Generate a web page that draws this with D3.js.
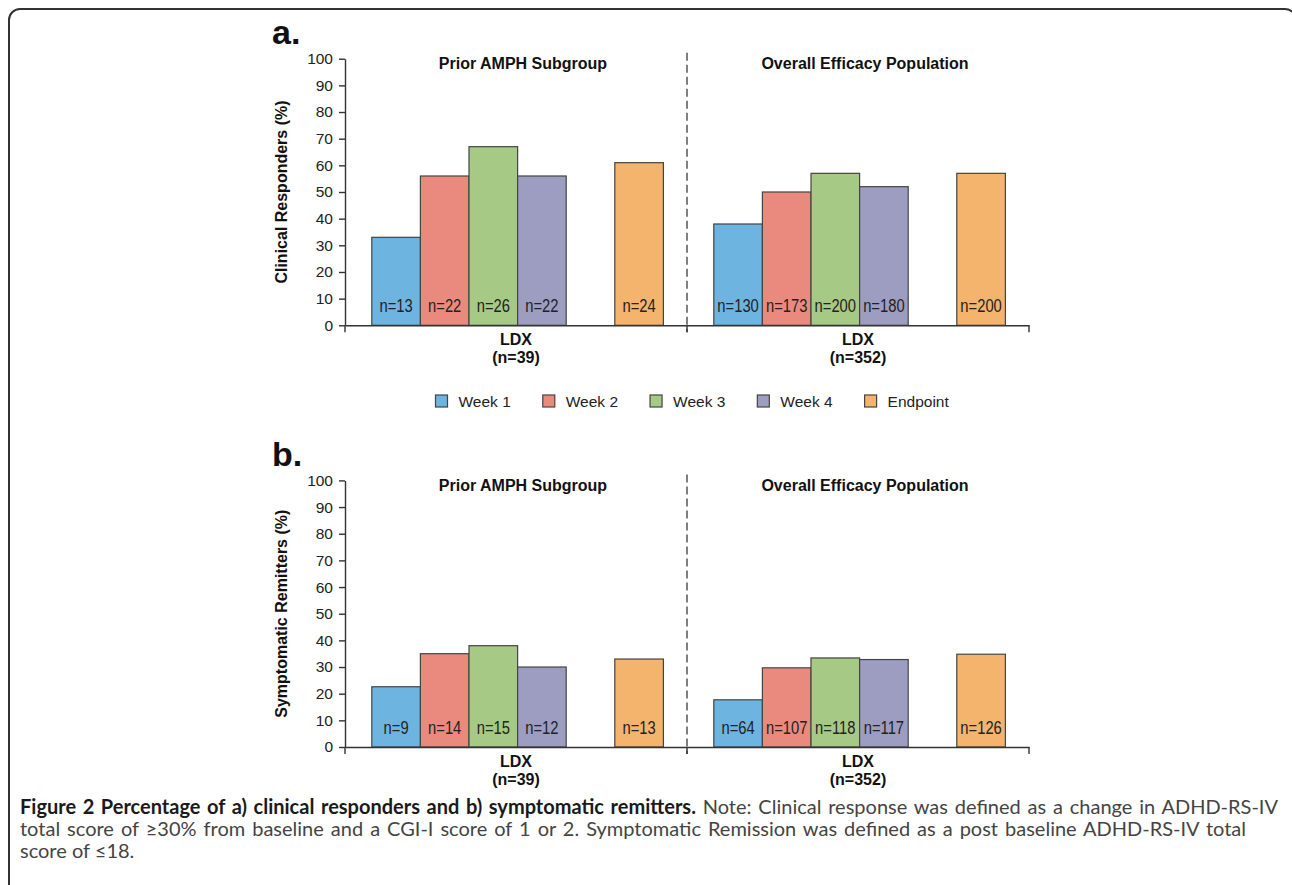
<!DOCTYPE html>
<html>
<head>
<meta charset="utf-8">
<title>figure-2-responders-remitters</title>
<style>
body { margin: 0; background: #fff; }
svg { display: block; }
.axis path, .axis line { stroke: #333; stroke-width: 1.4; }
.axis text { font-family: "Liberation Sans", Arial, sans-serif; font-size: 15.5px; fill: #222; }
.bar { stroke: #444; stroke-width: 1.2; }
.nlab { font-family: "Liberation Sans", Arial, sans-serif; font-size: 18px; fill: #222; text-anchor: middle; }
.ttl { font-family: "Liberation Sans", Arial, sans-serif; font-weight: bold; font-size: 16px; fill: #111; }
.cap { font-family: Lato, "Open Sans", sans-serif; font-size: 20px; }
</style>
</head>
<body>
<script src="https://cdn.jsdelivr.net/npm/d3@7"></script>
<script>
// categories
var weeks = ["Week 1", "Week 2", "Week 3", "Week 4", "Endpoint"];
var slots = ["Week 1", "Week 2", "Week 3", "Week 4", "gap", "Endpoint"];
var groups = ["Prior AMPH Subgroup", "Overall Efficacy Population"];
var groupN = ["(n=39)", "(n=352)"];
var yTicks = [0, 10, 20, 30, 40, 50, 60, 70, 80, 90, 100];
var colors = ["#6db4e1", "#ea8a7e", "#a6c985", "#9d9dc1", "#f4b46d"];

// a) clinical responders (%) and counts
var respPct = [[33, 56, 67, 56, 61], [38, 50, 57, 52, 57]];
var respN = [[13, 22, 26, 22, 24], [130, 173, 200, 180, 200]];
// b) symptomatic remitters (%) and counts
var remPct = [[22.6, 35, 38, 30, 33], [17.7, 29.7, 33.4, 32.8, 34.8]];
var remN = [[9, 14, 15, 12, 13], [64, 107, 118, 117, 126]];

var W = 1292, H = 885;
var svg = d3.select("body").append("svg").attr("width", W).attr("height", H);

// frame with rounded corner (right and bottom edges fall outside the picture)
svg.append("rect").attr("x", 9).attr("y", 9).attr("width", 1287).attr("height", 920)
    .attr("rx", 11).attr("fill", "none").attr("stroke", "#333").attr("stroke-width", 2);

var x0 = d3.scaleBand().domain(groups).range([345, 1029]);
var x1 = d3.scaleBand().domain(slots).range([26.8, 26.8 + 6 * 48.6]);

function panel(top, letter, yTitle, pct, nums, showLegend) {
    var g = svg.append("g").attr("transform", "translate(0," + top + ")");
    var y = d3.scaleLinear().domain([0, 100]).range([325.3, 58.7]);

    g.append("text").attr("x", 272).attr("y", 44)
        .style("font-family", "Liberation Sans, Arial, sans-serif").style("font-weight", "bold")
        .style("font-size", "34px").style("fill", "#111").text(letter);

    // dashed divider
    g.append("line").attr("x1", x0(groups[1])).attr("x2", x0(groups[1]))
        .attr("y1", y(100) - 6).attr("y2", y(0) + 7)
        .attr("stroke", "#555").attr("stroke-width", 1.5).attr("stroke-dasharray", "8,4");

    groups.forEach(function (grp, gi) {
        var gx = x0(grp);
        g.append("text").attr("class", "ttl").attr("text-anchor", "middle")
            .attr("x", gx + x0.bandwidth() / 2 + 7).attr("y", 69).text(grp);

        var rows = weeks.map(function (w, i) { return { week: w, v: pct[gi][i], n: nums[gi][i], c: colors[i] }; });
        g.selectAll(".bar" + gi).data(rows).enter().append("rect")
            .attr("class", "bar")
            .attr("x", function (d) { return gx + x1(d.week); })
            .attr("width", x1.bandwidth())
            .attr("y", function (d) { return y(d.v); })
            .attr("height", function (d) { return y(0) - y(d.v); })
            .attr("fill", function (d) { return d.c; });
        // condensed count labels
        g.selectAll(".nl" + gi).data(rows).enter().append("text")
            .attr("class", "nlab")
            .attr("x", function (d) { return gx + x1(d.week) + x1.bandwidth() / 2; })
            .attr("y", y(0) - 13)
            .text(function (d) { return "n=" + d.n; })
            .each(function () {
                var len = this.getComputedTextLength();
                d3.select(this).attr("textLength", len * 0.82).attr("lengthAdjust", "spacingAndGlyphs");
            });
    });

    // y axis
    g.append("g").attr("class", "axis").attr("transform", "translate(345,0)")
        .call(d3.axisLeft(y).tickValues(yTicks).tickSize(6).tickPadding(6).tickSizeOuter(0));

    // x axis with labels
    var xa = g.append("g").attr("class", "axis").attr("transform", "translate(0," + y(0) + ")")
        .call(d3.axisBottom(x0).tickSize(0).tickSizeOuter(0).tickPadding(0));
    xa.selectAll(".tick text").each(function (d) {
        var t = d3.select(this).text("").attr("y", 0).attr("dy", null)
            .style("font-weight", "bold").style("font-size", "16px").style("fill", "#111");
        t.append("tspan").attr("x", 0).attr("y", 20).text("LDX");
        t.append("tspan").attr("x", 0).attr("y", 38).text(groupN[groups.indexOf(d)]);
    });
    var edges = [x0(groups[0]), x0(groups[1]), x0(groups[1]) + x0.bandwidth()];
    xa.selectAll(".edge").data(edges).enter().append("line")
        .attr("x1", function (d) { return d; }).attr("x2", function (d) { return d; })
        .attr("y1", 0).attr("y2", 7).attr("stroke", "#333").attr("stroke-width", 1.4);

    // y title
    g.append("text").attr("class", "ttl").attr("text-anchor", "middle")
        .attr("transform", "translate(287," + (y(0) + y(100)) / 2 + ") rotate(-90)")
        .text(yTitle);

    if (showLegend) {
        var lx = d3.scalePoint().domain(weeks).range([435.5, 864.6]);
        var lg = g.selectAll(".leg").data(weeks).enter().append("g")
            .attr("transform", function (d) { return "translate(" + lx(d) + ",395)"; });
        lg.append("rect").attr("width", 12).attr("height", 12)
            .attr("fill", function (d, i) { return colors[i]; })
            .attr("stroke", "#444").attr("stroke-width", 1.2);
        lg.append("text").attr("x", 23).attr("y", 11.5)
            .style("font-family", "Liberation Sans, Arial, sans-serif").style("font-size", "15.5px")
            .style("fill", "#222").text(function (d) { return d; });
    }
}

panel(0, "a.", "Clinical Responders (%)", respPct, respN, true);
panel(421.7, "b.", "Symptomatic Remitters (%)", remPct, remN, false);

// caption, justified lines
var capLines = [
    { y: 814, w: 1258, parts: [["Figure 2 Percentage of a) clinical responders and b) symptomatic remitters.", true], [" Note: Clinical response was defined as a change in ADHD-RS-IV", false]] },
    { y: 836, w: 1226, parts: [["total score of \u226530% from baseline and a CGI-I score of 1 or 2. Symptomatic Remission was defined as a post baseline ADHD-RS-IV total", false]] },
    { y: 858, w: 0, parts: [["score of \u226418.", false]] }
];
capLines.forEach(function (ln) {
    var t = svg.append("text").attr("class", "cap").attr("x", 20).attr("y", ln.y);
    ln.parts.forEach(function (p) {
        t.append("tspan").text(p[0])
            .style("font-weight", p[1] ? "bold" : "normal")
            .style("fill", p[1] ? "#1a1a1a" : "#444");
    });
    if (ln.w) {
        var len = t.node().getComputedTextLength();
        var spaces = ln.parts.map(function (p) { return p[0]; }).join("").split(" ").length - 1;
        t.attr("word-spacing", (ln.w - len) / spaces);
    }
});
</script>
</body>
</html>
